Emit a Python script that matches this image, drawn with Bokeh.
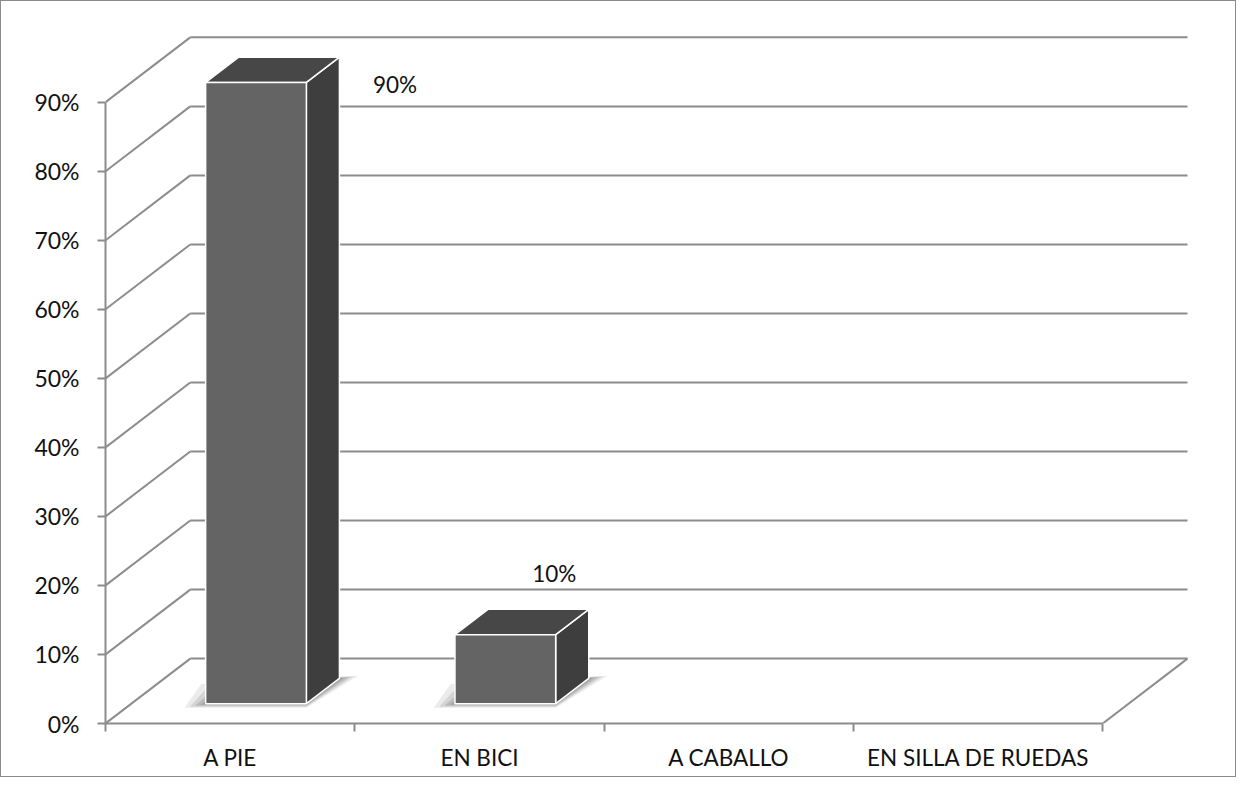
from bokeh.plotting import figure
from bokeh.layouts import column
from bokeh.models import Range1d, LinearAxis, FixedTicker, PrintfTickFormatter
from bokeh.core.properties import value
from bokeh.embed import file_html
from bokeh.resources import INLINE

# ---- data ----
categories = ["A PIE", "EN BICI", "A CABALLO", "EN SILLA DE RUEDAS"]
values = [90, 10, 0, 0]
labels = ["90%", "10%", "", ""]
y_ticks = [0, 10, 20, 30, 40, 50, 60, 70, 80, 90]

# ---- 3D geometry (layout constants) ----
DX = 0.34      # depth offset in category units
DY = 9.4       # depth offset in percent units
D0, D1 = 0.305, 0.695   # bar depth span (fraction of depth)
W = 0.404      # bar width in category units
label_dx = [0.661, 0.30, 0.0, 0.0]
label_dy = [2.6, 11.8, 0.0, 0.0]

GRID = "#8c8c8c"
FONT = "Lato"
TXT = "#111111"

p = figure(frame_width=1087, frame_height=713, output_backend="svg", toolbar_location=None,
           x_range=Range1d(0, 4.352), y_range=Range1d(0, 103.0),
           min_border_left=104, min_border_right=45, min_border_top=11, min_border_bottom=53,
           x_axis_type=None, y_axis_type=None)
p.grid.visible = False
p.outline_line_color = None
p.background_fill_color = "white"
p.border_fill_color = "white"

n = len(categories)
# back wall gridlines
p.segment(x0=[DX] * len(y_ticks), y0=[t + DY for t in y_ticks],
          x1=[n + DX] * len(y_ticks), y1=[t + DY for t in y_ticks],
          line_color=GRID, line_width=2)
# side wall diagonals
p.segment(x0=[0] * len(y_ticks), y0=y_ticks,
          x1=[DX] * len(y_ticks), y1=[t + DY for t in y_ticks],
          line_color=GRID, line_width=2)
# floor right edge
p.segment(x0=[n], y0=[0], x1=[n + DX], y1=[DY], line_color=GRID, line_width=2)

# bars
front_xs, front_ys, side_xs, side_ys, top_xs, top_ys = [], [], [], [], [], []
sh_xs, sh_ys, sh_alpha = [], [], []
for i, v in enumerate(values):
    if v <= 0:
        continue
    c = i + 0.5
    xl0, xr0 = c - W / 2 + D0 * DX, c + W / 2 + D0 * DX
    xl1, xr1 = c - W / 2 + D1 * DX, c + W / 2 + D1 * DX
    yb0, yb1 = D0 * DY, D1 * DY
    # soft floor shadow (layered translucent parallelograms)
    for s, a in [(1.0, 0.10), (0.75, 0.13), (0.5, 0.16), (0.25, 0.2)]:
        sh_xs.append([xl0 - 0.085 * s, xr0, xr1 + 0.075 * s, xl1 - 0.15 * s])
        sh_ys.append([yb0 - 0.6 * s, yb0 - 0.6 * s, yb1 + 0.4 * s, yb1 - 0.8])
        sh_alpha.append(a)
    front_xs.append([xl0, xr0, xr0, xl0])
    front_ys.append([yb0, yb0, v + yb0, v + yb0])
    side_xs.append([xr0, xr1, xr1, xr0])
    side_ys.append([yb0, yb1, v + yb1, v + yb0])
    top_xs.append([xl0, xr0, xr1, xl1])
    top_ys.append([v + yb0, v + yb0, v + yb1, v + yb1])

p.patches(xs=sh_xs, ys=sh_ys, fill_color="#3a3a3a", fill_alpha=sh_alpha, line_color=None)
p.patches(xs=side_xs, ys=side_ys, fill_color="#3e3e3e", line_color="white", line_width=1.5)
p.patches(xs=top_xs, ys=top_ys, fill_color="#474747", line_color="white", line_width=1.5)
p.patches(xs=front_xs, ys=front_ys, fill_color="#646464", line_color="white", line_width=1.5)

# data labels
lx = [i + 0.5 + label_dx[i] for i, v in enumerate(values) if v > 0]
ly = [v + label_dy[i] for i, v in enumerate(values) if v > 0]
lt = [labels[i] for i, v in enumerate(values) if v > 0]
p.text(x=lx, y=ly, text=lt, text_font=value(FONT), text_font_size="22.5px",
       text_color=TXT, text_align="center", text_baseline="middle")

# y axis
yax = LinearAxis(ticker=FixedTicker(ticks=y_ticks), formatter=PrintfTickFormatter(format="%d%%"),
                 bounds=(0, 90))
yax.axis_line_color = GRID
yax.axis_line_width = 2
yax.major_tick_line_color = GRID
yax.major_tick_line_width = 2
yax.major_tick_out = 8
yax.major_tick_in = 0
yax.minor_tick_line_color = None
yax.major_label_standoff = 18
yax.major_label_text_font = FONT
yax.major_label_text_font_size = "23px"
yax.major_label_text_color = TXT
p.add_layout(yax, "left")

# x axis
centers = [i + 0.5 for i in range(n)]
xax = LinearAxis(ticker=FixedTicker(ticks=centers, minor_ticks=list(range(n + 1))),
                 bounds=(0, n))
xax.major_label_overrides = {c: cat for c, cat in zip(centers, categories)}
xax.axis_line_color = GRID
xax.axis_line_width = 2
xax.major_tick_line_color = None
xax.major_tick_out = 0
xax.major_tick_in = 0
xax.minor_tick_line_color = GRID
xax.minor_tick_line_width = 2
xax.minor_tick_out = 8
xax.minor_tick_in = 0
xax.major_label_standoff = 12
xax.axis_label_standoff = 0
xax.major_label_text_font = FONT
xax.major_label_text_font_size = "22.5px"
xax.major_label_text_color = TXT
p.add_layout(xax, "below")

page = column(p, width=1236, height=777,
              styles={"border": "1px solid #8a8a8a", "overflow": "hidden"})

open("out.html", "w").write(file_html(page, INLINE))
